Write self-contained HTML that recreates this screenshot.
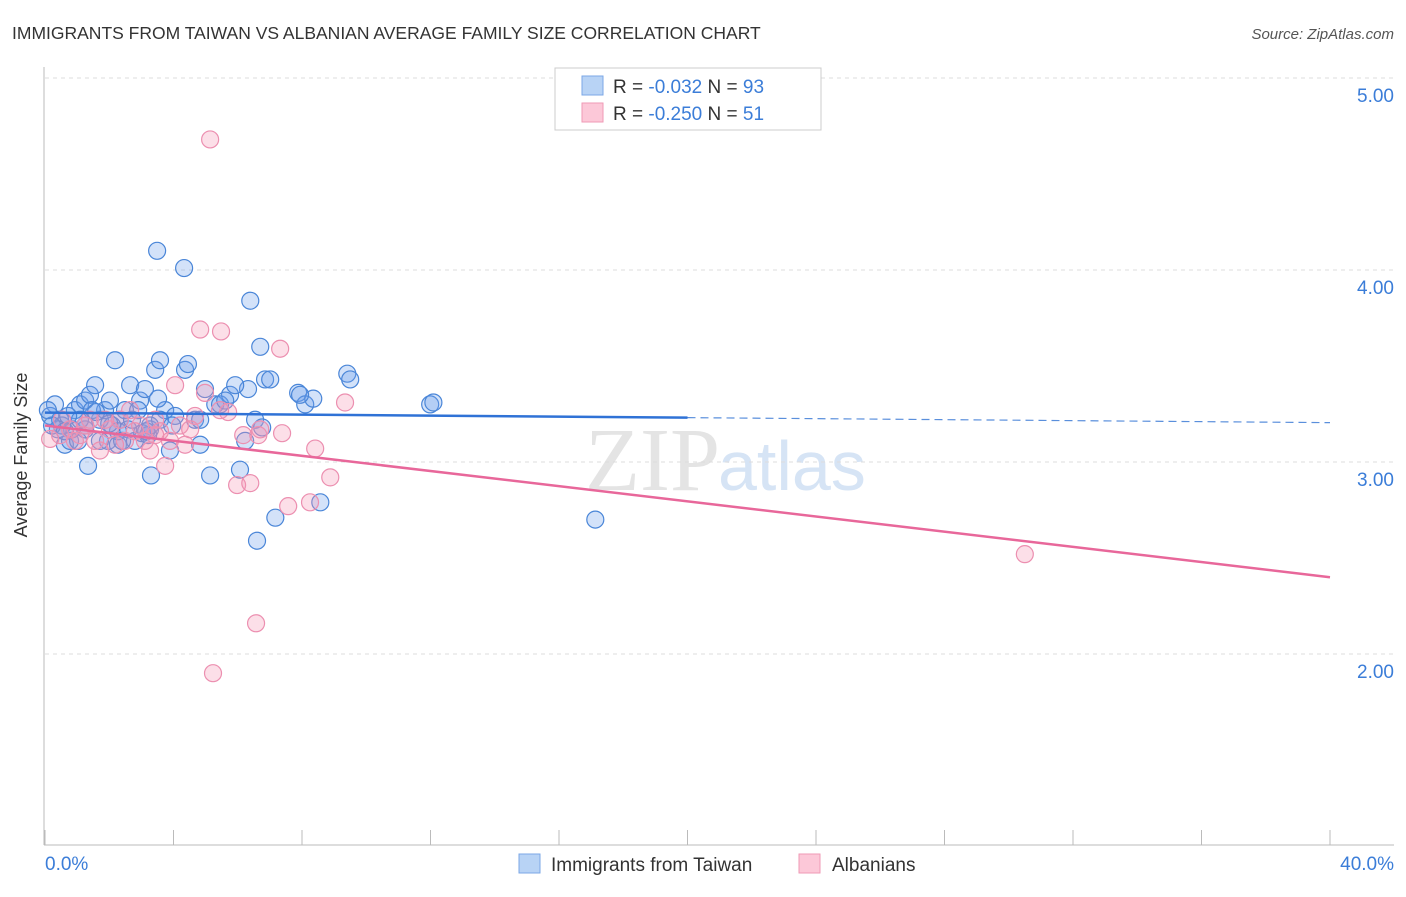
<!DOCTYPE html>
<html><head><meta charset="utf-8"><style>
body{margin:0;background:#fff;font-family:"Liberation Sans",sans-serif;}
</style></head><body>
<svg width="1406" height="892" xmlns="http://www.w3.org/2000/svg" font-family="Liberation Sans, sans-serif">
<text x="12" y="39" font-size="17.5" fill="#333">IMMIGRANTS FROM TAIWAN VS ALBANIAN AVERAGE FAMILY SIZE CORRELATION CHART</text>
<text x="1394" y="39" font-size="15" fill="#555" font-style="italic" text-anchor="end">Source: ZipAtlas.com</text>
<text x="720" y="490" font-size="90" fill="#e4e4e4" text-anchor="end" font-family="Liberation Serif, serif">ZIP</text>
<text x="718" y="490" font-size="70" fill="#d6e4f5">atlas</text>
<g id="grid"></g><g id="axes"></g><g id="pts"></g><g id="lines"></g>
<text x="27" y="455" font-size="18" fill="#333" text-anchor="middle" transform="rotate(-90 27 455)">Average Family Size</text>
<text x="45" y="870" font-size="19" fill="#3b7dd8">0.0%</text>
<text x="1394" y="870" font-size="19" fill="#3b7dd8" text-anchor="end">40.0%</text>
<g>
<rect x="555" y="68" width="266" height="62" fill="#fff" stroke="#ccc"/>
<rect x="582" y="76" width="21" height="19" fill="#b8d3f5" stroke="#7ba7e6"/>
<rect x="582" y="103" width="21" height="19" fill="#fcc8d8" stroke="#ef9ab6"/>
<text x="613" y="93" font-size="19" fill="#333">R = <tspan fill="#3b7dd8">-0.032</tspan>   N = <tspan fill="#3b7dd8">93</tspan></text>
<text x="613" y="120" font-size="19" fill="#333">R = <tspan fill="#3b7dd8">-0.250</tspan>   N = <tspan fill="#3b7dd8"> 51</tspan></text>
</g>
<g>
<rect x="519" y="854" width="21" height="19" fill="#b8d3f5" stroke="#7ba7e6"/>
<text x="551" y="871" font-size="19" fill="#333">Immigrants from Taiwan</text>
<rect x="799" y="854" width="21" height="19" fill="#fcc8d8" stroke="#ef9ab6"/>
<text x="832" y="871" font-size="19" fill="#333">Albanians</text>
</g>
</svg>
<script>
const yTicks=[2,3,4,5];
const yTickLabels=["2.00","3.00","4.00","5.00"];
const xTicks=[0,4,8,12,16,20,24,28,32,36,40];
const blueX=[0.31,0.16,0.47,0.62,0.78,0.93,1.09,1.25,1.40,1.56,1.25,1.34,1.71,1.87,2.02,2.18,1.96,2.27,2.33,2.49,2.65,2.80,2.96,3.11,3.27,3.43,3.58,3.74,3.89,4.05,4.36,4.45,4.67,4.83,4.98,5.14,5.30,5.45,5.76,6.07,6.23,6.32,6.39,6.54,6.70,6.76,6.85,7.01,7.17,6.60,7.88,8.10,8.35,8.57,9.41,9.50,11.99,12.09,17.13,3.49,4.33,3.30,3.02,2.27,1.71,0.84,0.53,0.40,1.09,1.46,2.09,2.59,2.90,3.21,3.58,3.96,0.22,0.09,0.72,1.03,1.59,2.40,2.71,3.15,3.52,4.83,5.61,5.92,7.94,3.27,0.62,1.25,2.0];
const blueY=[3.30,3.24,3.22,3.09,3.11,3.27,3.30,3.32,3.35,3.40,3.17,2.98,3.22,3.27,3.32,3.53,3.11,3.09,3.22,3.27,3.40,3.11,3.32,3.38,3.17,3.48,3.53,3.27,3.06,3.24,3.48,3.51,3.22,3.09,3.38,2.93,3.30,3.30,3.35,2.96,3.11,3.38,3.84,3.22,3.60,3.18,3.43,3.43,2.71,2.59,3.36,3.30,3.33,2.79,3.46,3.43,3.30,3.31,2.70,4.10,4.01,2.93,3.15,3.16,3.11,3.17,3.19,3.17,3.22,3.27,3.19,3.17,3.27,3.14,3.22,3.19,3.19,3.27,3.24,3.11,3.26,3.11,3.22,3.16,3.33,3.22,3.32,3.40,3.35,3.19,3.16,3.19,3.20];
const pinkX=[5.14,4.83,5.48,7.32,4.05,4.98,5.70,6.17,6.64,7.38,8.41,9.34,8.88,8.25,7.57,5.98,6.39,6.57,5.23,30.50,3.74,3.27,2.80,2.33,1.71,1.56,1.25,0.93,0.47,0.16,0.78,1.40,2.02,2.65,3.11,3.43,3.89,4.36,4.67,4.20,2.49,2.18,1.87,0.53,2.96,3.58,4.52,5.45,6.70,3.43,1.09];
const pinkY=[4.68,3.69,3.68,3.59,3.40,3.36,3.26,3.14,3.14,3.15,3.07,3.31,2.92,2.79,2.77,2.88,2.89,2.16,1.90,2.52,2.98,3.06,3.16,3.22,3.06,3.11,3.19,3.11,3.14,3.12,3.17,3.22,3.17,3.27,3.11,3.22,3.11,3.09,3.24,3.19,3.11,3.09,3.22,3.22,3.19,3.16,3.17,3.27,3.17,3.14,3.14];
const blueTrend=[3.257,3.205];const pinkTrend=[3.19,2.40];
const NS="http://www.w3.org/2000/svg";
const sx=v=>45+v*(1330-45)/40, sy=v=>462-(v-3)*192;
function mk(t,a,p){const e=document.createElementNS(NS,t);for(const k in a)e.setAttribute(k,a[k]);p.appendChild(e);return e;}
const grid=document.getElementById('grid'),axes=document.getElementById('axes'),pts=document.getElementById('pts'),lines=document.getElementById('lines');
yTicks.forEach((v,i)=>{
 const l=mk('line',{x1:45,x2:1394,y1:sy(v),y2:sy(v),stroke:'#ddd','stroke-dasharray':'4,4'},grid);
 
 
 const t=mk('text',{x:1394,y:sy(v)+24,'font-size':19,fill:'#3b7dd8','text-anchor':'end'},grid);
 t.textContent=yTickLabels[i];
 
 
});
const ya=mk('line',{x1:44,x2:44,y1:67,y2:845,stroke:'#bbb'},axes);


const xa=mk('line',{x1:44,x2:1394,y1:845,y2:845,stroke:'#bbb'},axes);


xTicks.forEach(v=>{
 const t=mk('line',{x1:sx(v),x2:sx(v),y1:830,y2:845,stroke:'#bbb'},axes);
 
 
});
blueX.forEach((x,i)=>{
 const c=mk('circle',{cx:sx(x),cy:sy(blueY[i]),r:8.5,fill:'rgba(110,160,235,0.3)',stroke:'#4a86d8','stroke-width':1.2},pts);
 
 
});
pinkX.forEach((x,i)=>{
 const c=mk('circle',{cx:sx(x),cy:sy(pinkY[i]),r:8.5,fill:'rgba(245,150,180,0.3)',stroke:'#ec8fb0','stroke-width':1.2},pts);
 
 
});
const bm=blueTrend[0]+(blueTrend[1]-blueTrend[0])*20/40;
const b1=mk('line',{x1:sx(0),y1:sy(blueTrend[0]),x2:sx(20),y2:sy(bm),stroke:'#2f72d6','stroke-width':2.5},lines);


const b2=mk('line',{x1:sx(20),y1:sy(bm),x2:sx(40),y2:sy(blueTrend[1]),stroke:'#5a8fdc','stroke-width':1.2,'stroke-dasharray':'8,5'},lines);


const p1=mk('line',{x1:sx(0),y1:sy(pinkTrend[0]),x2:sx(40),y2:sy(pinkTrend[1]),stroke:'#e8679a','stroke-width':2.5},lines);


</script>
</body></html>
